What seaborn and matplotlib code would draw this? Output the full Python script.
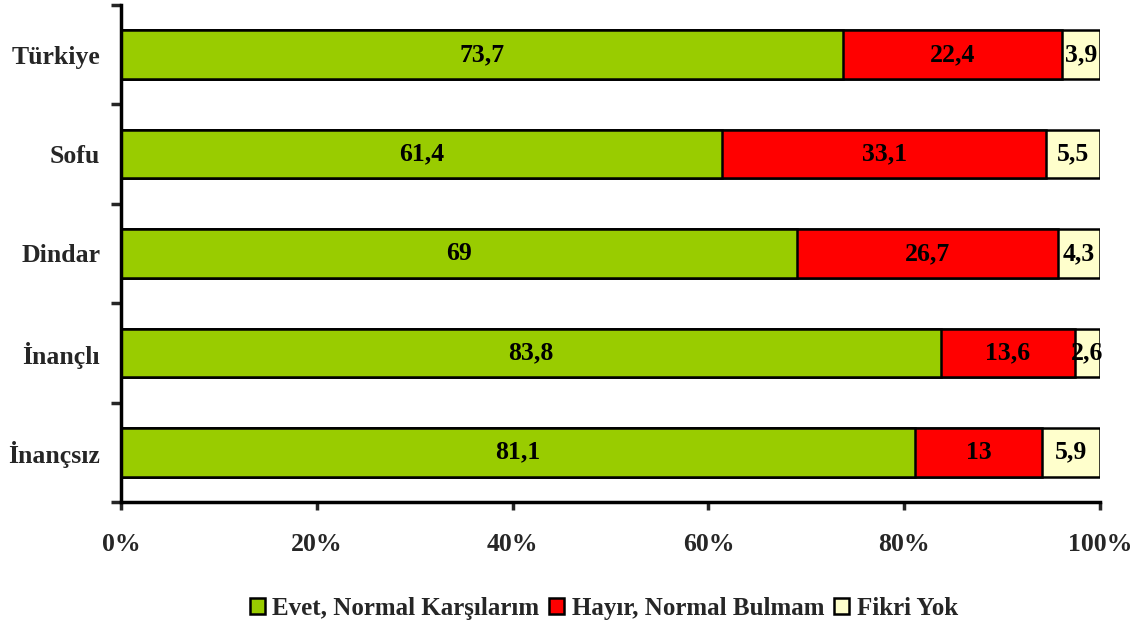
import numpy as np
import pandas as pd
import matplotlib
matplotlib.use('Agg')
import matplotlib.pyplot as plt
from matplotlib.patches import Patch
from matplotlib.ticker import FixedLocator, PercentFormatter
import seaborn as sns

# Data
categories = ['Türkiye', 'Sofu', 'Dindar', 'İnançlı', 'İnançsız']
evet = [73.7, 61.4, 69, 83.8, 81.1]
hayir = [22.4, 33.1, 26.7, 13.6, 13]
fikri = [3.9, 5.5, 4.3, 2.6, 5.9]
series_names = ['Evet, Normal Karşılarım', 'Hayır, Normal Bulmam', 'Fikri Yok']
colors = ['#99CC00', '#FF0000', '#FFFFCC']

sns.set_style('white')
plt.rcParams['font.family'] = ['Liberation Serif', 'DejaVu Serif']
plt.rcParams['font.weight'] = 'bold'

df = pd.DataFrame({'cat': categories, 'evet': evet, 'hayir': hayir, 'fikri': fikri})
df['c1'] = df['evet']
df['c2'] = df['evet'] + df['hayir']
df['c3'] = df['c2'] + df['fikri']

fig = plt.figure(figsize=(11.39, 6.3), dpi=100)
ax = fig.add_axes([121 / 1139, 1 - 502 / 630, (1100 - 121) / 1139, 497 / 630])

# stacked bars: draw cumulative totals from largest to smallest
for col, color in zip(['c3', 'c2', 'c1'], colors[::-1]):
    sns.barplot(data=df, x=col, y='cat', orient='h', color=color, width=0.49,
                edgecolor='black', linewidth=1.8, saturation=1, ax=ax)

# value labels centred in each segment
for i, row in df.iterrows():
    starts = [0, row['c1'], row['c2']]
    for s, v in zip(starts, [row['evet'], row['hayir'], row['fikri']]):
        txt = ('%g' % v).replace('.', ',')
        ax.text(s + v / 2, i, txt, ha='center', va='center',
                fontsize=18.5, fontweight='bold', color='black')

ax.set_xlim(0, 100)
ax.set_ylim(4.5, -0.5)
ax.xaxis.set_major_locator(FixedLocator([0, 20, 40, 60, 80, 100]))
ax.xaxis.set_major_formatter(PercentFormatter(100, decimals=0))
ax.yaxis.set_minor_locator(FixedLocator(np.arange(-0.5, 5, 1)))
ax.set_xlabel('')
ax.set_ylabel('')

for side in ['top', 'right']:
    ax.spines[side].set_visible(False)
for side in ['left', 'bottom']:
    ax.spines[side].set_linewidth(2.5)
    ax.spines[side].set_color('black')

ax.tick_params(axis='x', which='major', length=6, width=2.5, direction='out',
               pad=16, labelsize=18.5, bottom=True)
ax.tick_params(axis='y', which='major', length=0, pad=15, labelsize=18.5)
ax.tick_params(axis='y', which='minor', length=7, width=2.5, direction='out', left=True)
for lbl in ax.get_xticklabels() + ax.get_yticklabels():
    lbl.set_fontweight('bold')

handles = [Patch(facecolor=c, edgecolor='black', linewidth=1.8) for c in colors]
fig.legend(handles, series_names, loc='center', bbox_to_anchor=(0.53, 0.034),
           ncol=3, frameon=False, handlelength=0.6, handleheight=0.6,
           handletextpad=0.3, columnspacing=0.4, prop={'weight': 'bold', 'size': 18})

fig.savefig('out.png', dpi=100)
